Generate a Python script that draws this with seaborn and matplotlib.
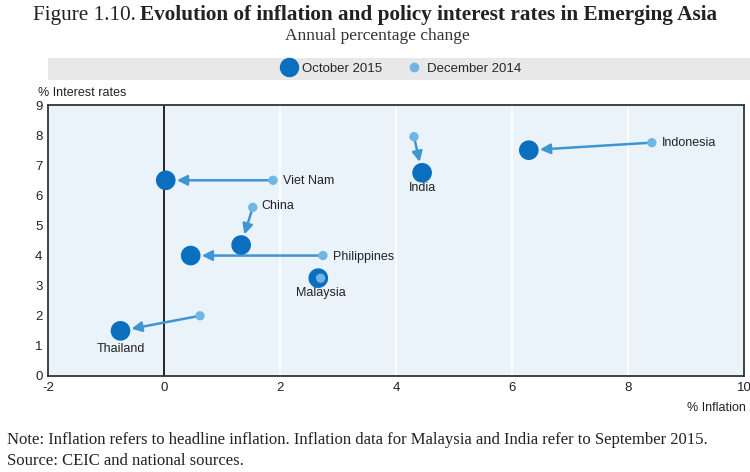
import pandas as pd
import seaborn as sns
import matplotlib.pyplot as plt
from matplotlib.patches import Rectangle
from matplotlib.lines import Line2D

# Datos
paises = ["Viet Nam", "China", "Philippines", "Malaysia", "Thailand", "India", "Indonesia"]
infl_dic14 = [1.88, 1.53, 2.74, 2.70, 0.62, 4.31, 8.41]
tasa_dic14 = [6.50, 5.60, 4.00, 3.25, 2.00, 7.95, 7.75]
infl_oct15 = [0.03, 1.33, 0.46, 2.66, -0.75, 4.45, 6.29]
tasa_oct15 = [6.50, 4.35, 4.00, 3.25, 1.50, 6.75, 7.50]

# Posición de las etiquetas: (serie, dx, dy, ha, va)
etiquetas = {
    "Viet Nam": ("dic", 0.18, -0.02, "left", "center"),
    "China": ("dic", 0.15, 0.05, "left", "center"),
    "Philippines": ("dic", 0.18, -0.05, "left", "center"),
    "Malaysia": ("oct", 0.05, -0.3, "center", "top"),
    "Thailand": ("oct", 0.0, -0.4, "center", "top"),
    "India": ("oct", 0.0, -0.3, "center", "top"),
    "Indonesia": ("dic", 0.18, 0.0, "left", "center"),
}

df = pd.DataFrame({
    "pais": paises,
    "infl_dic14": infl_dic14, "tasa_dic14": tasa_dic14,
    "infl_oct15": infl_oct15, "tasa_oct15": tasa_oct15,
})

azul_osc = "#0a6fbf"
azul_cla = "#6fb6e2"
azul_flecha = "#3f95d2"
sans = ["Liberation Sans", "DejaVu Sans"]
serif = ["Liberation Serif", "DejaVu Serif"]

sns.set_style("white")
plt.rcParams["font.family"] = sans
plt.rcParams["axes.unicode_minus"] = False

fig = plt.figure(figsize=(7.5, 4.72), dpi=100)
ax = fig.add_axes([0.064, 0.2034, 0.928, 0.5741])
ax.set_facecolor("#eaf3fa")

# Flechas de diciembre 2014 a octubre 2015
for _, r in df.iterrows():
    if abs(r["infl_oct15"] - r["infl_dic14"]) + abs(r["tasa_oct15"] - r["tasa_dic14"]) < 0.2:
        continue
    ax.annotate("", xy=(r["infl_oct15"], r["tasa_oct15"]),
                xytext=(r["infl_dic14"], r["tasa_dic14"]),
                arrowprops=dict(arrowstyle="-|>", color=azul_flecha, lw=1.8,
                                mutation_scale=15, shrinkA=3, shrinkB=8),
                zorder=3)

sns.scatterplot(data=df, x="infl_dic14", y="tasa_dic14", ax=ax, color=azul_cla,
                s=45, edgecolor="none", zorder=4)
sns.scatterplot(data=df, x="infl_oct15", y="tasa_oct15", ax=ax, color=azul_osc,
                s=200, edgecolor="none", zorder=5)
# Malaysia: el punto de 2014 queda encima
m = df[df["pais"] == "Malaysia"]
sns.scatterplot(data=m, x="infl_dic14", y="tasa_dic14", ax=ax, color=azul_cla,
                s=45, edgecolor="none", zorder=6)

for _, r in df.iterrows():
    serie, dx, dy, ha, va = etiquetas[r["pais"]]
    x0 = r["infl_dic14"] if serie == "dic" else r["infl_oct15"]
    y0 = r["tasa_dic14"] if serie == "dic" else r["tasa_oct15"]
    ax.text(x0 + dx, y0 + dy, r["pais"], ha=ha, va=va, fontsize=9,
            color="#222222", zorder=7)

ax.axvline(0, color="black", lw=1.2, zorder=2)
ax.set_xlim(-2, 10)
ax.set_ylim(0, 9)
ax.set_xticks(range(-2, 11, 2))
ax.set_yticks(range(0, 10))
ax.grid(axis="x", color="white", lw=1.2)
ax.set_axisbelow(True)
for s in ax.spines.values():
    s.set_color("#333333")
    s.set_linewidth(1.3)
ax.tick_params(labelsize=9.5, length=0, pad=4, colors="#222222")
ax.set_xlabel("")
ax.set_ylabel("")

fig.text(0.995, 0.135, "% Inflation", ha="right", va="center", fontsize=9, color="#222222")
fig.text(0.051, 0.803, "% Interest rates", ha="left", va="center", fontsize=9, color="#222222")

# Título (parte normal + parte en negrita) y subtítulo
t1 = fig.text(0.044, 0.968, "Figure 1.10.", ha="left", va="center", fontsize=15.3,
              family=serif, color="#222222")
fig.canvas.draw()
bb = t1.get_window_extent().transformed(fig.transFigure.inverted())
fig.text(bb.x1 + 0.006, 0.968, "Evolution of inflation and policy interest rates in Emerging Asia",
         ha="left", va="center", fontsize=15.3, family=serif, weight="bold", color="#222222")
fig.text(0.503, 0.923, "Annual percentage change", ha="center", va="center",
         fontsize=12.5, family=serif, color="#333333")

# Banda de leyenda
fig.patches.append(Rectangle((0.064, 0.831), 0.936, 0.047, transform=fig.transFigure,
                             facecolor="#e8e8e8", edgecolor="none"))
manejadores = [
    Line2D([], [], marker="o", ls="", color=azul_osc, markersize=13),
    Line2D([], [], marker="o", ls="", color=azul_cla, markersize=6),
]
fig.legend(manejadores, ["October 2015", "December 2014"], loc="center",
           bbox_to_anchor=(0.533, 0.855), ncol=2, frameon=False, fontsize=9.5,
           handletextpad=0.2, columnspacing=1.6, handlelength=1.6)

fig.text(0.009, 0.068, "Note: Inflation refers to headline inflation. Inflation data for Malaysia and India refer to September 2015.",
         ha="left", va="center", fontsize=12, family=serif, color="#222222")
fig.text(0.009, 0.023, "Source: CEIC and national sources.",
         ha="left", va="center", fontsize=12, family=serif, color="#222222")

fig.savefig("out.png", dpi=100)
